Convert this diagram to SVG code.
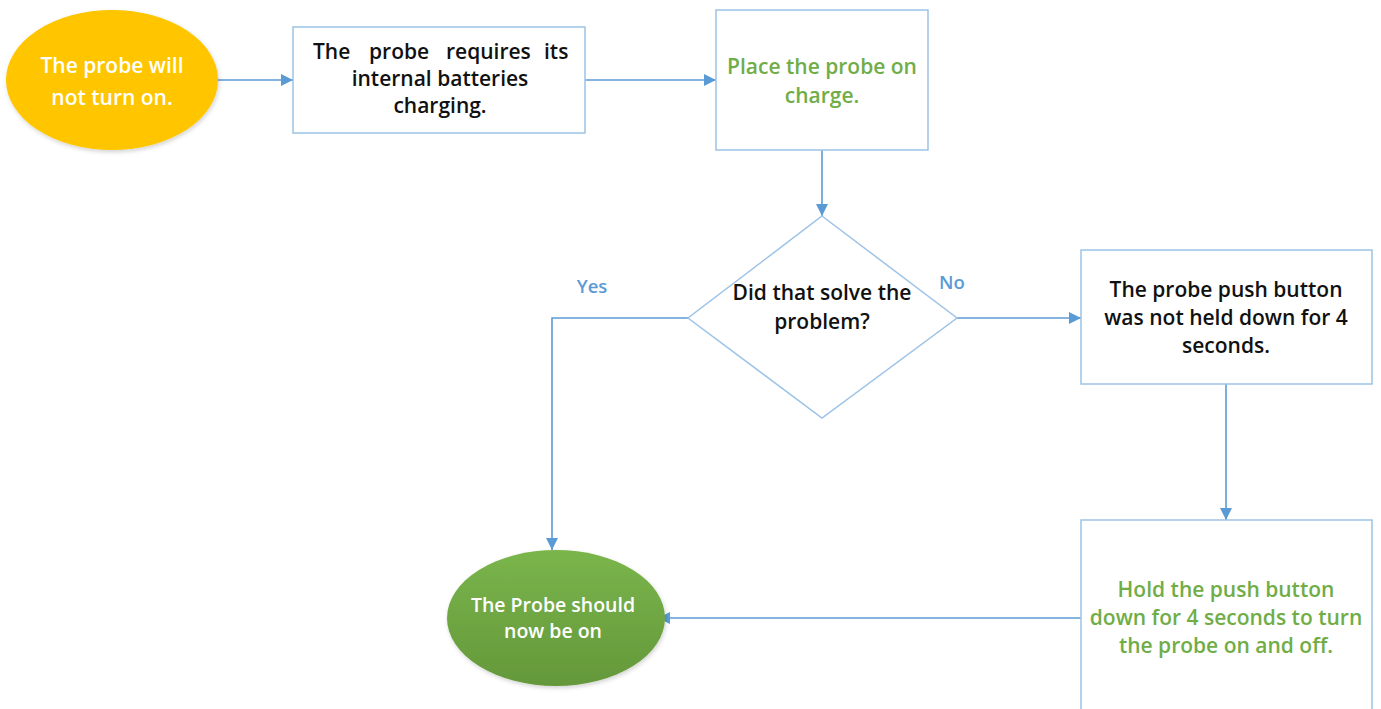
<svg xmlns="http://www.w3.org/2000/svg" width="1381" height="709" viewBox="0 0 1381 709">
  <defs>
    <style>
      .box { fill: #ffffff; stroke: #9dc3e6; stroke-width: 1.5; }
      .conn { fill: none; stroke: #5b9bd5; stroke-width: 1.6; }
      .t { font-family: "Open Sans", "Noto Sans", sans-serif; font-weight: 600; font-size: 21px; text-anchor: middle; }
      .left { text-anchor: start; }
      .small { font-size: 19.5px; }
      .dark { fill: #111111; }
      .grn { fill: #70ad47; }
      .wht { fill: #ffffff; }
      .lbl { font-family: "Open Sans", "Noto Sans", sans-serif; font-weight: 600; font-size: 18.5px; fill: #5b9bd5; text-anchor: middle; }
    </style>
    <marker id="arrow" viewBox="0 0 12 12" refX="12" refY="6" markerWidth="12" markerHeight="12" markerUnits="userSpaceOnUse" orient="auto">
      <path d="M0,0 L12,6 L0,12 z" fill="#5b9bd5"/>
    </marker>
    <linearGradient id="greenFill" x1="0" y1="0" x2="0" y2="1">
      <stop offset="0" stop-color="#7ab54c"/>
      <stop offset="1" stop-color="#64983a"/>
    </linearGradient>
    <filter id="shadow" x="-10%" y="-10%" width="125%" height="130%">
      <feDropShadow dx="1" dy="2" stdDeviation="2" flood-color="#000000" flood-opacity="0.18"/>
    </filter>
  </defs>

  <rect width="1381" height="709" fill="#ffffff"/>

  <!-- connectors -->
  <g id="connectors">
    <line class="conn" x1="218" y1="80" x2="293" y2="80" marker-end="url(#arrow)"/>
    <line class="conn" x1="585" y1="80" x2="716" y2="80" marker-end="url(#arrow)"/>
    <line class="conn" x1="822" y1="150" x2="822" y2="216" marker-end="url(#arrow)"/>
    <line class="conn" x1="957" y1="318" x2="1081" y2="318" marker-end="url(#arrow)"/>
    <polyline class="conn" points="688,318 552,318 552,550" marker-end="url(#arrow)"/>
    <line class="conn" x1="1226" y1="384" x2="1226" y2="520" marker-end="url(#arrow)"/>
    <line class="conn" x1="1081" y1="618" x2="658" y2="618" marker-end="url(#arrow)"/>
    <text class="lbl" x="592" y="293">Yes</text>
    <text class="lbl" x="952" y="289">No</text>
  </g>

  <!-- start -->
  <g id="start">
    <ellipse cx="112" cy="80" rx="106" ry="70" fill="#ffc600" filter="url(#shadow)"/>
    <text class="t wht" x="112" y="73">The probe will</text>
    <text class="t wht" x="112" y="105">not turn on.</text>
  </g>

  <!-- cause: batteries (first line justified word by word) -->
  <g id="batteries">
    <rect class="box" x="293" y="27" width="292" height="106"/>
    <text class="t left dark" y="59"><tspan x="313">The</tspan><tspan x="369">probe</tspan><tspan x="446">requires</tspan><tspan x="544">its</tspan></text>
    <text class="t dark" x="440" y="86">internal batteries</text>
    <text class="t dark" x="440" y="113">charging.</text>
  </g>

  <!-- action: charge -->
  <g id="charge">
    <rect class="box" x="716" y="10" width="212" height="140"/>
    <text class="t grn" x="822" y="74">Place the probe on</text>
    <text class="t grn" x="822" y="103">charge.</text>
  </g>

  <!-- decision -->
  <g id="decision">
    <polygon class="box" points="822,216 957,318 822,418 688,318"/>
    <text class="t dark" x="822" y="300">Did that solve the</text>
    <text class="t dark" x="822" y="329">problem?</text>
  </g>

  <!-- cause: push button -->
  <g id="button">
    <rect class="box" x="1081" y="250" width="291" height="134"/>
    <text class="t dark" x="1226" y="297">The probe push button</text>
    <text class="t dark" x="1226" y="325">was not held down for 4</text>
    <text class="t dark" x="1226" y="353">seconds.</text>
  </g>

  <!-- action: hold button -->
  <g id="hold">
    <rect class="box" x="1081" y="520" width="291" height="200"/>
    <text class="t grn" x="1226" y="597">Hold the push button</text>
    <text class="t grn" x="1226" y="625">down for 4 seconds to turn</text>
    <text class="t grn" x="1226" y="653">the probe on and off.</text>
  </g>

  <!-- end -->
  <g id="end">
    <ellipse cx="556" cy="618" rx="109" ry="68" fill="url(#greenFill)" filter="url(#shadow)"/>
    <text class="t small wht" x="553" y="612">The Probe should</text>
    <text class="t small wht" x="553" y="638">now be on</text>
  </g>
</svg>
